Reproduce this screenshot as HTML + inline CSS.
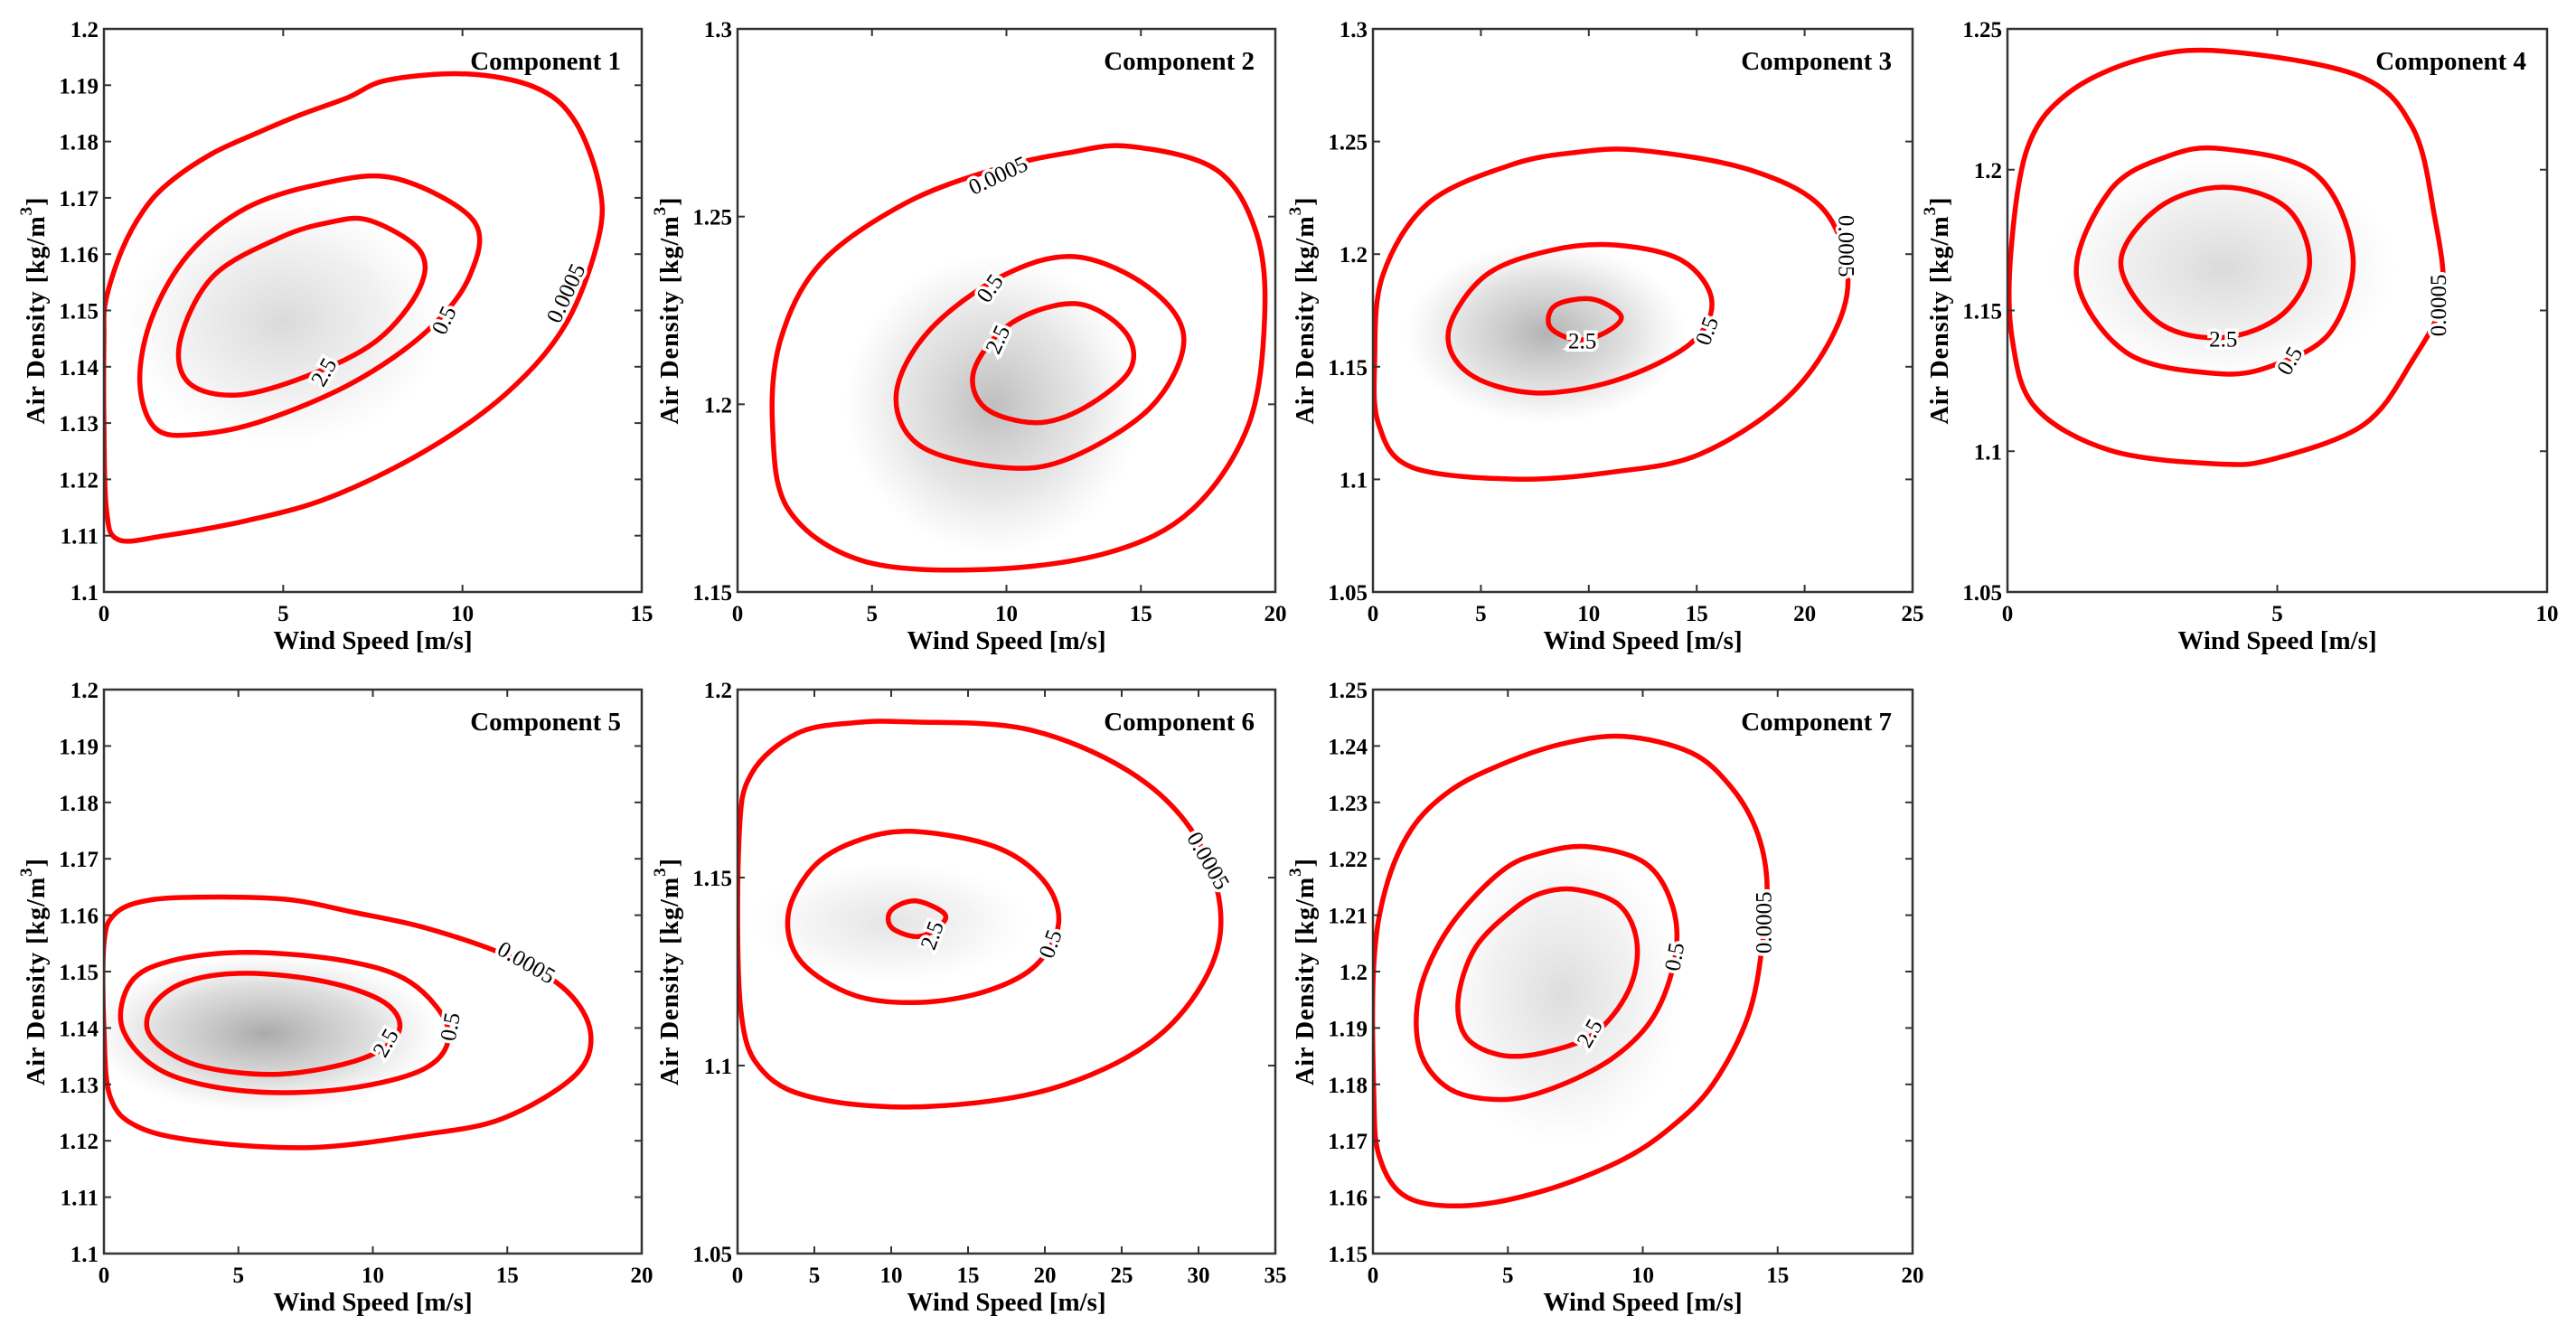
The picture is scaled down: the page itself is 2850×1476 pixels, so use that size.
<!DOCTYPE html>
<html><head><meta charset="utf-8">
<style>
html,body{margin:0;padding:0;background:#fff;}
svg{display:block;font-family:"Liberation Serif",serif;}
</style></head>
<body>
<svg id="fig" width="2850" height="1476" viewBox="0 0 2850 1476" xmlns="http://www.w3.org/2000/svg">
<defs>
<radialGradient id="cloudGrad"><stop offset="0" stop-color="#555" stop-opacity="1"/><stop offset="0.6" stop-color="#777" stop-opacity="0.5"/><stop offset="1" stop-color="#999" stop-opacity="0"/></radialGradient>
</defs>
</svg>
<script>
// ---- panel layout / axis ranges ----
const panelTitles = ["Component 1","Component 2","Component 3","Component 4","Component 5","Component 6","Component 7"];
const xMax = [15,20,25,10,20,35,20];
const yMin = [1.1,1.15,1.05,1.05,1.1,1.05,1.15];
const yMaxs = [1.2,1.3,1.3,1.25,1.2,1.2,1.25];
const yStep = [0.01,0.05,0.05,0.05,0.01,0.05,0.01];
const xStep = [5,5,5,5,5,5,5];
const contourLevels = ["0.0005","0.5","2.5"];

// ---- contour data (wind speed, air density) per panel: [outer, middle, inner] ----
const c1Outer = [[0.4,1.1093],[1.7,1.110],[4.0,1.1127],[6.3,1.1168],[9.0,1.1252],[11.3,1.1357],[12.9,1.1478],[13.8,1.163],[13.8,1.1727],[13.1,1.184],[12.0,1.1897],[10.1,1.192],[7.9,1.1909],[6.8,1.1878],[5.5,1.1848],[4.3,1.1816],[3.0,1.1778],[1.8,1.1726],[1.1,1.1677],[0.5,1.1607],[0.05,1.1517],[0.0,1.1448],[0.0,1.13],[0.07,1.1146]];
const c1Mid = [[8.1,1.1735],[10.3,1.166],[10.2,1.1561],[9.0,1.1463],[6.95,1.1372],[4.43,1.1304],[2.6,1.128],[1.45,1.129],[1.0,1.1372],[1.33,1.1486],[2.36,1.16],[3.97,1.1682],[6.0,1.1724]];
const c1In = [[7.4,1.166],[8.8,1.1607],[8.8,1.1539],[7.64,1.1448],[5.8,1.1387],[3.74,1.135],[2.36,1.1372],[2.13,1.1448],[3.05,1.1561],[4.9,1.1629],[6.26,1.1656]];
const c2Outer = [[14.6,1.2687],[17.8,1.2625],[19.3,1.2455],[19.6,1.2228],[19.0,1.1945],[16.9,1.1719],[13.8,1.1605],[9.2,1.156],[4.65,1.1583],[1.9,1.1719],[1.3,1.1945],[1.6,1.2172],[3.1,1.2376],[6.2,1.2534],[9.5,1.2625],[12.3,1.267]];
const c2Mid = [[12.6,1.2393],[15.35,1.2308],[16.6,1.2172],[15.35,1.1991],[12.3,1.1855],[9.85,1.1832],[6.8,1.1889],[5.9,1.2025],[7.1,1.2194],[9.85,1.2342]];
const c2In = [[12.6,1.2268],[14.4,1.2194],[14.6,1.2092],[12.9,1.1991],[11.1,1.1951],[9.2,1.1991],[8.8,1.2092],[10.2,1.2217]];
const c3Outer = [[12.4,1.2461],[17.4,1.2376],[20.8,1.2206],[22.0,1.1904],[21.2,1.162],[18.9,1.1337],[15.1,1.111],[11.3,1.1035],[6.7,1.1001],[1.8,1.1054],[0.27,1.1243],[0.08,1.1526],[0.45,1.1904],[2.55,1.2225],[6.35,1.2395],[9.4,1.2452]];
const c3Mid = [[11.3,1.204],[14.35,1.197],[15.7,1.1791],[14.7,1.1602],[11.3,1.1441],[7.5,1.1384],[4.45,1.147],[3.5,1.1658],[5.2,1.1904],[8.26,1.2017]];
const c3In = [[10.16,1.18],[11.5,1.1724],[10.7,1.1649],[9.4,1.162],[8.2,1.1677],[8.45,1.1772]];
const c4Outer = [[4.0,1.2421],[6.5,1.2334],[7.5,1.2152],[7.9,1.185],[8.06,1.1548],[7.5,1.1321],[6.6,1.1094],[4.94,1.0973],[3.87,1.0955],[1.9,1.1003],[0.52,1.1155],[0.09,1.1396],[0.06,1.1699],[0.37,1.2077],[1.13,1.2273],[2.5,1.2394]];
const c4Mid = [[4.0,1.2074],[5.7,1.1986],[6.4,1.1699],[6.0,1.1427],[4.94,1.1306],[3.87,1.1276],[2.2,1.1351],[1.28,1.1623],[1.9,1.1926],[2.96,1.2047]];
const c4In = [[4.0,1.1938],[5.17,1.1865],[5.6,1.1669],[5.1,1.1487],[4.0,1.1404],[2.8,1.1457],[2.1,1.1669],[2.8,1.1865]];
const c5Outer = [[3.76,1.1632],[6.8,1.1628],[9.3,1.1605],[12.0,1.1577],[15.1,1.1526],[17.2,1.1466],[18.1,1.139],[17.5,1.1315],[14.8,1.1239],[11.7,1.121],[7.7,1.1188],[3.76,1.1198],[1.3,1.1224],[0.24,1.1277],[0.0,1.1398],[0.0,1.1549],[0.4,1.1602],[1.6,1.1626]];
const c5Mid = [[5.3,1.1534],[8.96,1.1519],[11.4,1.1481],[12.8,1.1398],[12.0,1.133],[8.96,1.1292],[5.3,1.1288],[2.23,1.1322],[0.7,1.1398],[1.0,1.1481],[2.5,1.1519]];
const c5In = [[5.3,1.1497],[8.35,1.1481],[10.5,1.1443],[10.95,1.1392],[9.57,1.1345],[6.5,1.1318],[3.46,1.1334],[1.77,1.1383],[1.77,1.1436],[3.0,1.1481]];
const c6Outer = [[11.3,1.1914],[18.8,1.1895],[25.3,1.1787],[29.5,1.1629],[31.4,1.1425],[30.6,1.1244],[26.9,1.1063],[20.4,1.0938],[12.4,1.0891],[5.46,1.091],[1.7,1.0983],[0.2,1.1153],[0.1,1.1606],[0.9,1.1776],[3.85,1.1883],[7.6,1.1912]];
const c6Mid = [[11.3,1.1623],[16.7,1.1583],[19.9,1.1493],[20.9,1.138],[19.4,1.1266],[16.2,1.1198],[11.9,1.1168],[7.6,1.1187],[4.1,1.1278],[3.3,1.1402],[4.9,1.1527],[7.6,1.1595]];
const c6In = [[11.6,1.1438],[13.5,1.1402],[12.9,1.1363],[11.6,1.1343],[10.0,1.1368],[10.0,1.1413]];
const c7Outer = [[9.3,1.2417],[11.8,1.2388],[13.26,1.2328],[14.2,1.2252],[14.6,1.2162],[14.44,1.2049],[13.9,1.192],[12.6,1.18],[11.05,1.1724],[9.15,1.1664],[6.3,1.1611],[3.47,1.1585],[1.26,1.16],[0.24,1.1671],[0.03,1.1785],[0.03,1.2011],[0.47,1.2147],[1.42,1.2252],[2.84,1.232],[4.7,1.2366],[6.95,1.2403]];
const c7Mid = [[8.05,1.2221],[10.1,1.2192],[11.1,1.2117],[11.2,1.2026],[10.4,1.192],[8.84,1.1845],[6.6,1.1792],[4.74,1.1773],[2.84,1.1792],[1.74,1.186],[1.74,1.1966],[2.84,1.2079],[4.74,1.2177],[6.3,1.2211]];
const c7In = [[7.58,1.2145],[9.15,1.2117],[9.79,1.2049],[9.47,1.1966],[8.2,1.189],[6.3,1.1856],[4.74,1.1852],[3.47,1.1883],[3.16,1.1951],[3.79,1.2042],[5.2,1.211],[6.3,1.214]];
const contours = [[c1Outer,c1Mid,c1In],[c2Outer,c2Mid,c2In],[c3Outer,c3Mid,c3In],[c4Outer,c4Mid,c4In],[c5Outer,c5Mid,c5In],[c6Outer,c6Mid,c6In],[c7Outer,c7Mid,c7In]];

// contour labels: [x, y, rotation] per level (outer, mid, inner)
const labelPos = [
 [[12.9,1.153,-65],[9.5,1.1482,-65],[6.15,1.139,-60]],
 [[9.7,1.2608,-25],[9.4,1.2308,-55],[9.7,1.2172,-65]],
 [[21.9,1.2036,90],[15.5,1.1658,-70],[9.7,1.1611,0]],
 [[8.0,1.1518,-90],[5.24,1.132,-60],[4.0,1.1396,0]],
 [[15.7,1.1515,30],[12.9,1.1402,-80],[10.5,1.1373,-60]],
 [[30.6,1.1544,60],[20.4,1.1323,-70],[12.7,1.1346,-70]]
,[[14.5,1.2087,-90],[11.2,1.2026,-80],[8.05,1.189,-60]]];

// scatter cloud summary: centre x, centre y, spread x, spread y, density
const cloudX = [5,9.5,8,4,6,10,7];
const cloudY = [1.148,1.2,1.165,1.165,1.139,1.138,1.196];
const cloudSX = [4.5,5.5,6.5,3.2,6.5,9,4.5];
const cloudSY = [0.022,0.04,0.04,0.04,0.014,0.016,0.027];
const cloudDensity = [0.22,0.38,0.45,0.22,0.5,0.16,0.2];

// ---- pixel layout ----
const colL=[115,816,1519,2221], colR=[710,1411,2116,2818];
const rowT=[32,763], rowB=[655,1387];
const NS="http://www.w3.org/2000/svg";
const svg=document.getElementById('fig');
function mk(tag,attrs,parent){const e=document.createElementNS(NS,tag);for(const k in attrs)e.setAttribute(k,attrs[k]);(parent||svg).appendChild(e);return e;}
function fmt(v){return String(parseFloat(v.toFixed(3)));}
function smooth(pts){
 const n=pts.length;let d=`M${pts[0][0].toFixed(1)},${pts[0][1].toFixed(1)}`;
 for(let i=0;i<n;i++){const p0=pts[(i-1+n)%n],p1=pts[i],p2=pts[(i+1)%n],p3=pts[(i+2)%n];
  const c1=[p1[0]+(p2[0]-p0[0])/6,p1[1]+(p2[1]-p0[1])/6],c2=[p2[0]-(p3[0]-p1[0])/6,p2[1]-(p3[1]-p1[1])/6];
  d+=`C${c1[0].toFixed(1)},${c1[1].toFixed(1)} ${c2[0].toFixed(1)},${c2[1].toFixed(1)} ${p2[0].toFixed(1)},${p2[1].toFixed(1)}`;}
 return d+'Z';}

for(let p=0;p<7;p++){
 const r=p<4?0:1,c=p<4?p:p-4;
 const L=colL[c],R=colR[c],T=rowT[r],B=rowB[r];
 const sx=v=>L+(v/xMax[p])*(R-L);
 const sy=v=>B-(v-yMin[p])/(yMaxs[p]-yMin[p])*(B-T);
 const g=mk('g',{});
 
 
 const clipId='clip'+p;
 const cp=mk('clipPath',{id:clipId},g);mk('rect',{x:L,y:T,width:R-L,height:B-T},cp);
 // cloud
 const cl=mk('ellipse',{cx:sx(cloudX[p]),cy:sy(cloudY[p]),rx:cloudSX[p]/xMax[p]*(R-L),ry:cloudSY[p]/(yMaxs[p]-yMin[p])*(B-T),fill:'url(#cloudGrad)',opacity:cloudDensity[p],'clip-path':`url(#${clipId})`},g);
 
 
 // contours
 contours[p].forEach((pts,k)=>{
  const px=pts.map(q=>[sx(q[0]),sy(q[1])]);
  const path=mk('path',{d:smooth(px),fill:'none',stroke:'#ff0000','stroke-width':5.5,'stroke-linejoin':'round','clip-path':`url(#${clipId})`},g);
  
  
 });
 // contour labels
 labelPos[p].forEach((lp,k)=>{
  const x=sx(lp[0]),y=sy(lp[1]);
  const t=mk('text',{x:x,y:y,'font-size':25,'text-anchor':'middle','dominant-baseline':'central',transform:`rotate(${lp[2]} ${x} ${y})`,stroke:'#fff','stroke-width':7,'paint-order':'stroke',fill:'#000'},g);
  t.textContent=contourLevels[k];
  
  
 });
 // axes box
 const box=mk('rect',{x:L,y:T,width:R-L,height:B-T,fill:'none',stroke:'#333','stroke-width':2.5},g);
 
 
 // x ticks
 for(let v=0;v<=xMax[p]+1e-9;v+=xStep[p]){
  const x=sx(v);
  mk('line',{x1:x,y1:B,x2:x,y2:B-8,stroke:'#333','stroke-width':2},g);
  mk('line',{x1:x,y1:T,x2:x,y2:T+8,stroke:'#333','stroke-width':2},g);
  const t=mk('text',{x:x,y:B+32,'font-size':25,'font-weight':'bold','text-anchor':'middle'},g);
  t.textContent=fmt(v);
  
  
 }
 // y ticks
 const ny=Math.round((yMaxs[p]-yMin[p])/yStep[p]);
 for(let i=0;i<=ny;i++){
  const v=yMin[p]+i*yStep[p],y=sy(v);
  mk('line',{x1:L,y1:y,x2:L+8,y2:y,stroke:'#333','stroke-width':2},g);
  mk('line',{x1:R,y1:y,x2:R-8,y2:y,stroke:'#333','stroke-width':2},g);
  const t=mk('text',{x:L-6,y:y+9,'font-size':25,'font-weight':'bold','text-anchor':'end'},g);
  t.textContent=fmt(v);
  
  
 }
 // title
 const tt=mk('text',{x:R-23,y:T+45,'font-size':29,'font-weight':'bold','text-anchor':'end'},g);
 tt.textContent=panelTitles[p];
 
 
 // x axis title
 const xt=mk('text',{x:(L+R)/2,y:B+63,'font-size':29,'font-weight':'bold','text-anchor':'middle'},g);
 xt.textContent='Wind Speed [m/s]';
 
 
 // y axis title
 const yx=L-75,yy=(T+B)/2;
 const yt=mk('text',{x:yx,y:yy,'font-size':28,'font-weight':'bold','text-anchor':'middle','dominant-baseline':'central',transform:`rotate(-90 ${yx} ${yy})`,'letter-spacing':'1'},g);
 
 
 const s1=mk('tspan',{},yt);s1.textContent='Air Density [kg/m';
 const s2=mk('tspan',{dy:-11,'font-size':19},yt);s2.textContent='3';
 const s3=mk('tspan',{dy:11},yt);s3.textContent=']';
}
</script>
</body></html>
